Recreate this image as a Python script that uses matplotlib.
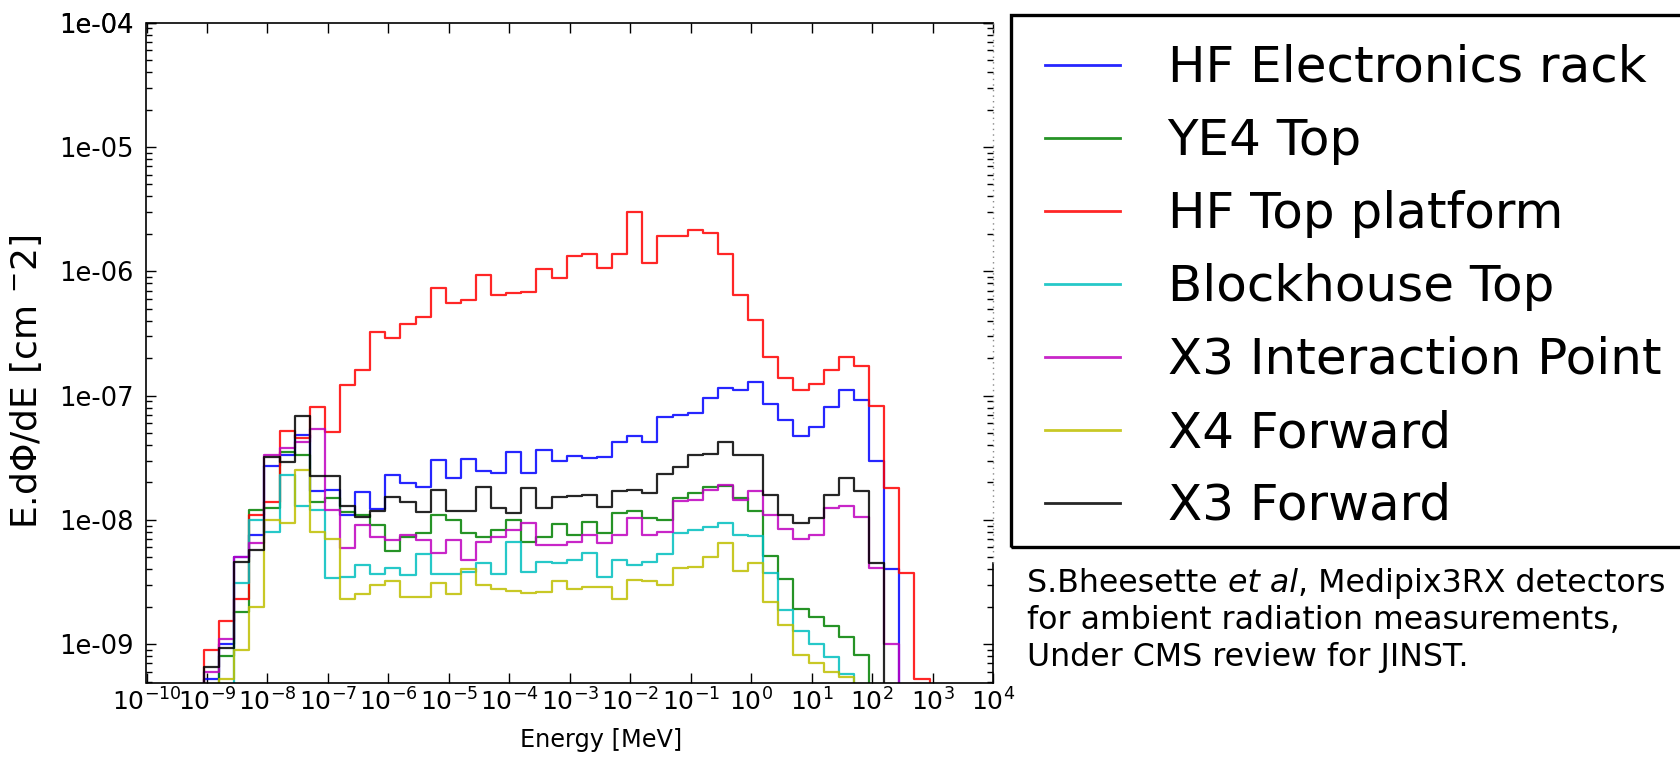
import numpy as np
import matplotlib
matplotlib.use("Agg")
import matplotlib.pyplot as plt
from matplotlib.patches import Rectangle
from matplotlib.ticker import LogLocator, FuncFormatter, NullLocator, NullFormatter

# ---------------- data ----------------
# left edges of the energy bins, in decades (quarter-decade binning)
bin_exp = np.arange(-9.5, 3.01, 0.25)
bin_shift = -0.05

labels = ["HF Electronics rack", "YE4 Top", "HF Top platform", "Blockhouse Top",
          "X3 Interaction Point", "X4 Forward", "X3 Forward"]
colors = ["#0000ff", "#008000", "#ff0000", "#00bfbf", "#bf00bf", "#bfbf00", "#000000"]

N = None
hf_rack = [N, N, 5.2e-10, 1.0e-9, 5.0e-9, 7.5e-9, 2.7e-8, 3.3e-8, 4.8e-8, 1.7e-8,
           1.75e-8, 1.1e-8, 1.69e-8, 1.22e-8, 2.3e-8, 1.97e-8, 1.83e-8, 3.03e-8, 2.16e-8, 3.07e-8,
           2.48e-8, 2.37e-8, 3.5e-8, 2.37e-8, 3.65e-8, 3.0e-8, 3.27e-8, 3.13e-8, 3.2e-8, 4.2e-8,
           4.7e-8, 4.2e-8, 6.7e-8, 7.0e-8, 7.2e-8, 9.5e-8, 1.15e-7, 1.1e-7, 1.29e-7, 8.6e-8,
           6.4e-8, 4.7e-8, 5.6e-8, 8.1e-8, 1.11e-7, 9.2e-8, 3.0e-8, 4.0e-9, N, N, N]
ye4_top = [N, N, N, 8.0e-10, 1.8e-9, 1.2e-8, 1.25e-8, 3.5e-8, 3.3e-8, 1.4e-8,
           1.5e-8, 1.15e-8, 1.1e-8, 9.1e-9, 5.6e-9, 7.3e-9, 7.8e-9, 1.1e-8, 1.0e-8, 7.8e-9,
           7.3e-9, 8.3e-9, 1.0e-8, 6.7e-9, 7.3e-9, 9.3e-9, 7.6e-9, 9.7e-9, 7.8e-9, 1.13e-8,
           1.17e-8, 1.03e-8, 1.0e-8, 1.49e-8, 1.65e-8, 1.85e-8, 1.88e-8, 1.5e-8, 1.18e-8, 5.1e-9,
           3.35e-9, 1.92e-9, 1.65e-9, 1.4e-9, 1.15e-9, 8.2e-10, N, N, N, N, N]
hf_top = [N, N, 9.0e-10, 1.55e-9, 2.3e-9, 1.1e-8, 1.4e-8, 5.2e-8, 4.6e-8, 8.1e-8,
          5.1e-8, 1.22e-7, 1.6e-7, 3.27e-7, 2.89e-7, 3.77e-7, 4.3e-7, 7.4e-7, 5.6e-7, 5.9e-7,
          9.3e-7, 6.5e-7, 6.65e-7, 6.8e-7, 1.04e-6, 8.8e-7, 1.33e-6, 1.37e-6, 1.06e-6, 1.37e-6,
          3.0e-6, 1.16e-6, 1.92e-6, 1.93e-6, 2.15e-6, 2.05e-6, 1.39e-6, 6.4e-7, 4.06e-7, 2.06e-7,
          1.38e-7, 1.11e-7, 1.23e-7, 1.6e-7, 2.03e-7, 1.73e-7, 8.2e-8, 1.8e-8, 3.76e-9, 5.2e-10, N]
blockhouse = [N, N, N, N, 3.1e-9, 1.0e-8, 8.0e-9, 2.3e-8, 1.3e-8, 1.2e-8,
              3.4e-9, 3.5e-9, 4.3e-9, 3.7e-9, 4.1e-9, 3.6e-9, 5.3e-9, 3.7e-9, 3.7e-9, 3.8e-9,
              4.5e-9, 3.7e-9, 6.7e-9, 3.84e-9, 4.6e-9, 4.5e-9, 4.8e-9, 5.4e-9, 3.5e-9, 4.8e-9,
              4.3e-9, 4.6e-9, 5.3e-9, 7.8e-9, 8.3e-9, 8.8e-9, 9.5e-9, 7.6e-9, 7.4e-9, 3.75e-9,
              1.9e-9, 1.28e-9, 1.0e-9, 7.9e-10, 5.8e-10, N, N, N, N, N, N]
x3_ip = [N, N, 6.0e-10, 1.1e-9, 5.0e-9, 6.5e-9, 3.3e-8, 3.8e-8, 4.2e-8, 5.4e-8,
         1.2e-8, 5.9e-9, 9.1e-9, 7.3e-9, 6.9e-9, 7.6e-9, 6.9e-9, 5.4e-9, 6.9e-9, 4.8e-9,
         6.7e-9, 7.3e-9, 8.3e-9, 9.5e-9, 6.3e-9, 6.3e-9, 6.7e-9, 7.6e-9, 6.5e-9, 7.5e-9,
         1.03e-8, 7.6e-9, 8.0e-9, 1.43e-8, 1.45e-8, 1.75e-8, 1.9e-8, 1.45e-8, 1.7e-8, 1.1e-8,
         8.5e-9, 7.0e-9, 7.5e-9, 1.25e-8, 1.3e-8, 1.05e-8, 4.1e-9, 1.0e-9, N, N, N]
x4_fwd = [N, N, N, 5.2e-10, 9.0e-10, 2.0e-9, 1.0e-8, 9.5e-9, 2.5e-8, 8.0e-9,
          7.0e-9, 2.3e-9, 2.55e-9, 3.0e-9, 3.2e-9, 2.4e-9, 2.4e-9, 3.1e-9, 2.55e-9, 4.0e-9,
          3.0e-9, 2.8e-9, 2.7e-9, 2.6e-9, 2.65e-9, 3.2e-9, 2.8e-9, 2.9e-9, 2.9e-9, 2.3e-9,
          3.3e-9, 3.2e-9, 3.0e-9, 4.1e-9, 4.2e-9, 5.0e-9, 6.5e-9, 3.9e-9, 4.5e-9, 2.2e-9,
          1.43e-9, 8.2e-10, 7.0e-10, 6.0e-10, 5.4e-10, N, N, N, N, N, N]
x3_fwd = [N, N, 6.5e-10, 9.3e-10, 4.6e-9, 5.7e-9, 3.2e-8, 2.9e-8, 6.9e-8, 2.26e-8,
          2.26e-8, 1.3e-8, 1.06e-8, 1.17e-8, 1.54e-8, 1.4e-8, 1.15e-8, 1.74e-8, 1.17e-8, 1.17e-8,
          1.83e-8, 1.24e-8, 1.13e-8, 1.8e-8, 1.24e-8, 1.54e-8, 1.57e-8, 1.6e-8, 1.26e-8, 1.7e-8,
          1.75e-8, 1.65e-8, 2.35e-8, 2.65e-8, 3.35e-8, 3.4e-8, 4.2e-8, 3.3e-8, 3.35e-8, 1.59e-8,
          1.1e-8, 9.4e-9, 1.03e-8, 1.59e-8, 2.16e-8, 1.72e-8, 4.5e-9, N, N, N, N]

series = [hf_rack, ye4_top, hf_top, blockhouse, x3_ip, x4_fwd, x3_fwd]

x_ticks_exp = list(range(-10, 5))
y_ticks_exp = list(range(-9, -3))

# ---------------- figure ----------------
W, H = 1681, 760
fig = plt.figure(figsize=(W / 100, H / 100), dpi=100)
fig.patch.set_facecolor("white")

ax_l, ax_r, ax_t, ax_b = 146.5, 993.0, 22.7, 682.7
ax = fig.add_axes([ax_l / W, 1 - ax_b / H, (ax_r - ax_l) / W, (ax_b - ax_t) / H])

edges = 10 ** (np.append(bin_exp, bin_exp[-1] + 0.25) + bin_shift)
handles = []
for vals, col, lab in zip(series, colors, labels):
    v = np.array([1e-13 if x is None else x for x in vals], dtype=float)
    ln, = ax.step(edges, np.append(v, v[-1]), where="post", color=col, lw=1.6,
                  label=lab, alpha=0.85)
    handles.append(ln)

ax.set_xscale("log")
ax.set_yscale("log")
ax.set_xlim(1e-10, 1e4)
ax.set_ylim(4.9e-10, 1e-4)

ax.set_xticks([10.0 ** e for e in x_ticks_exp])
ax.xaxis.set_minor_locator(NullLocator())
ax.xaxis.set_major_formatter(FuncFormatter(lambda v, p: r"$10^{%d}$" % int(round(np.log10(v)))))
ax.set_yticks([10.0 ** e for e in y_ticks_exp] + [1e-4])
ax.yaxis.set_minor_locator(LogLocator(base=10, subs=np.arange(2, 10), numticks=30))
ax.yaxis.set_minor_formatter(NullFormatter())
ax.yaxis.set_major_formatter(FuncFormatter(lambda v, p: "%.0e" % v))

ax.tick_params(which="both", direction="in", top=True, right=True, width=1.0)
ax.tick_params(which="major", length=7)
ax.tick_params(which="minor", length=4)
ax.tick_params(axis="x", pad=4, labelsize=18)
ax.tick_params(axis="y", pad=9.5, labelsize=18.5)
for s in ax.spines.values():
    s.set_linewidth(1.2)
# the upper part of the right frame is faint in the original composite
ax.spines["right"].set_bounds(4.9e-10, 4.5e-9)
ax.plot([1, 1], [4.5e-9, 1e-4], transform=ax.get_yaxis_transform(), color="#888888",
        lw=1.0, ls=(0, (1, 3)), clip_on=False, zorder=5)

ax.set_xlabel("Energy [MeV]", fontsize=17.3)
ax.xaxis.set_label_coords(0.537, -0.068)
ax.set_ylabel(r"E.d$\Phi$/dE [cm $^{-}$2]", fontsize=26)
ax.yaxis.set_label_coords(-0.121, 0.4556)

# legend: frame drawn separately so it can run past the right edge like the original
fig.patches.append(Rectangle((1011 / W, 1 - 547 / H), (1720 - 1011) / W, (547 - 15) / H,
                             transform=fig.transFigure, fill=False, lw=2.4,
                             edgecolor="black", clip_on=False))
leg = fig.legend(handles, labels, loc="upper left",
                 bbox_to_anchor=(1045 / W, 1 - 44 / H), borderaxespad=0,
                 fontsize=36, frameon=False,
                 handlelength=1.5, handletextpad=0.95, borderpad=0.0, labelspacing=0.5)
for lh in leg.get_lines():
    lh.set_linewidth(2.0)
    lh.set_alpha(0.85)

cite_kw = dict(fontsize=22.8, family=["DejaVu Sans"], color="black")
t1 = fig.text(1027 / W, 1 - 592 / H, "S.Bheesette ", va="baseline", **cite_kw)
a1 = ax.annotate("et al", xy=(1, 0), xycoords=t1, va="bottom", ha="left",
                 style="italic", annotation_clip=False, **cite_kw)
a2 = ax.annotate(", Medipix3RX detectors", xy=(1, 0), xycoords=a1, va="bottom",
                 ha="left", annotation_clip=False, **cite_kw)
fig.text(1027 / W, 1 - 629 / H, "for ambient radiation measurements,", va="baseline", **cite_kw)
fig.text(1027 / W, 1 - 666 / H, "Under CMS review for JINST.", va="baseline", **cite_kw)

fig.savefig("out.png", dpi=100, facecolor="white")
